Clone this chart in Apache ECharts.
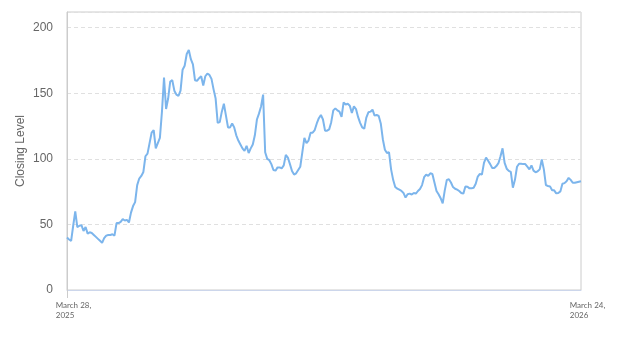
<!DOCTYPE html>
<html>
<head>
<meta charset="utf-8">
<script src="https://cdn.jsdelivr.net/npm/echarts@6/dist/echarts.min.js"></script>
<style>
html,body{margin:0;padding:0;background:#fff;}
#chart{width:623px;height:350px;}
</style>
</head>
<body>
<div id="chart"></div>
<script>
// Closing levels, one per trading day from March 28, 2025 to March 24, 2026
const closingLevels = [
40,38.5,37.5,49,60,48,49,49.5,45,48,
43,44,43.5,42,40.5,39,37.5,36,39.5,41.5,
42,42,42.5,41.5,51,51,52,54,53,53.5,
51.5,59,64,67,80,85,87,90,102,104,
112,120,122,108,112,116,136,162,138,146,
159,160,152,149,148,152,168,171,180,183,
176,172,160,159.5,161.5,163,156,163,165,164,
161,153,146,127.5,128,136,142,133,124,124,
127,124,118,114,111,108,106,110,104.5,108,
111,118,130,134.5,140,149,105,100,99,96,
91.5,91,93.5,93.5,92.8,95,103,101,96,90.7,
88,89,91.5,94,105,116,112,114,120,120,
122,127,131,133.5,130,121.5,121.5,122.5,128,137,
138.5,137,136,132,143,141.5,142,140.5,135,140,
138,132,127.5,124,123,131.5,135.5,136,137.5,133,
133.5,132.7,127,115,107,104.5,105,92,84,78.5,
77.3,76.5,75.6,74,70.5,73,73.5,72.8,74,73.5,
75.5,77,80,86,88,87,89,88.5,82,75.5,
73,70,66,76,84,84.4,82,78.5,77.2,76.5,
75.5,74,73.5,79,78.8,77.5,77.5,78,81,86.5,
88.5,88,97,101,98.5,96,93,93,94.5,96.7,
102,108,97,92.5,90.8,90,78,84,94,96.3,
96.3,96,96,94,92,95,91,89.8,90.5,92,
99.5,92,80,79.3,79,76,76,73.7,74,75.2,
81,81.5,83,85.5,84,81.8,81.8,82.2,82.6,83
];
const xTickLabels = ['March 28,\n2025', 'March 24,\n2026'];
const yTicks = [0, 50, 100, 150, 200];
const yAxisTitle = 'Closing Level';

const lastIdx = closingLevels.length - 1;
const categories = closingLevels.map((_, i) => i);

function richLabel(s) {
  return s.split('\n').map(p => '{a|' + p + '}').join('\n');
}

const chart = echarts.init(document.getElementById('chart'), null, {renderer: 'canvas'});
chart.setOption({
  animation: false,
  backgroundColor: '#ffffff',
  grid: {
    left: 67, right: 42, top: 12, bottom: 60,
    show: true, borderColor: '#cccccc', borderWidth: 1
  },
  xAxis: {
    type: 'category',
    data: categories,
    boundaryGap: false,
    axisLine: {show: true, lineStyle: {color: '#ccd6eb', width: 1}},
    axisTick: {
      show: true, length: 8, lineStyle: {color: '#cccccc'},
      interval: (idx) => idx === 0
    },
    axisLabel: {
      interval: (idx) => idx === 0 || idx === lastIdx,
      formatter: (v, idx) => idx === 0 ? richLabel(xTickLabels[0]) : (idx === lastIdx ? richLabel(xTickLabels[1]) : ''),
      align: 'center',
      padding: [0, 0, 0, 13],
      margin: 10,
      rich: {
        a: {align: 'left', color: '#666666', fontSize: 8, lineHeight: 10, fontFamily: 'Lato, sans-serif'}
      }
    },
    splitLine: {show: false}
  },
  yAxis: {
    type: 'value',
    min: yTicks[0],
    max: 212,
    interval: yTicks[1] - yTicks[0],
    name: yAxisTitle,
    nameLocation: 'middle',
    nameGap: 40,
    nameMoveOverlap: false,
    nameTextStyle: {color: '#666666', fontSize: 12, fontFamily: '"Liberation Sans", Arial, sans-serif'},
    axisLine: {show: true, lineStyle: {color: '#cccccc'}},
    axisTick: {show: false},
    axisLabel: {
      color: '#666666', fontSize: 12, margin: 14, showMaxLabel: false,
      fontFamily: '"Liberation Sans", Arial, sans-serif',
      formatter: (v) => yTicks.includes(v) ? String(v) : ''
    },
    splitLine: {show: true, lineStyle: {color: '#e0e0e0', type: [4, 3], width: 1}}
  },
  series: [{
    type: 'line',
    data: closingLevels,
    showSymbol: false,
    symbol: 'none',
    lineStyle: {color: '#7cb5ec', width: 2},
    itemStyle: {color: '#7cb5ec'}
  }]
});
</script>
</body>
</html>
